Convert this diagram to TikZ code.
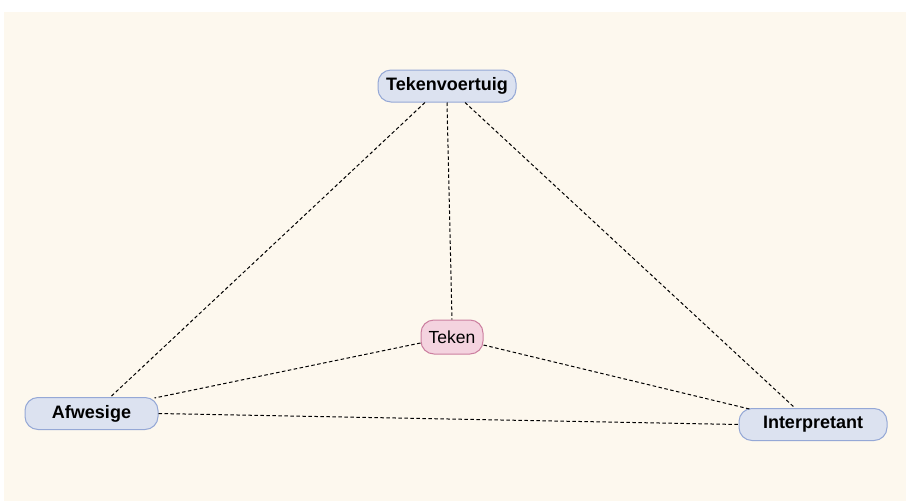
\documentclass[tikz,border=0pt]{standalone}
\usepackage{fontspec}
\setmainfont{Liberation Sans}
\begin{document}
\begin{tikzpicture}[x=1pt,y=-1pt,
  concept/.style={draw=blueline, line width=1pt, fill=bluefill, rounded corners=13pt,
    minimum height=32pt, inner sep=0pt, font=\fontsize{18}{20}\selectfont\bfseries, text=black},
  centre/.style={draw=pinkline, line width=1pt, fill=pinkfill, rounded corners=13pt,
    minimum height=34pt, minimum width=62pt, inner sep=0pt, font=\fontsize{17.5}{20}\selectfont, text=black},
  link/.style={draw=black, line width=1pt, dash pattern=on 3.5pt off 2.5pt}]
\definecolor{bgcol}{HTML}{FDF8EE}
\definecolor{bluefill}{HTML}{DCE2F0}
\definecolor{blueline}{HTML}{95A8D6}
\definecolor{pinkfill}{HTML}{F4D3DF}
\definecolor{pinkline}{HTML}{CC7FA0}
\useasboundingbox (0,0) rectangle (906,501);
\fill[bgcol] (4,12) rectangle (906,501);
\node[concept, minimum width=138pt] (tv) at (447,86) {Tekenvoertuig};
\node[centre] (te) at (452,337) {Teken};
\node[concept, minimum width=133pt] (af) at (91.5,413.5) {Afwesige};
\node[concept, minimum width=148pt] (ip) at (813,424.5) {Interpretant};
\draw[link] ([xshift=-22pt]tv.south) -- ([xshift=19pt]af.north);
\draw[link] (tv.south) -- (te.north);
\draw[link] ([xshift=18pt]tv.south) -- ([xshift=-18pt]ip.north);
\draw[link] ([yshift=-6pt]te.west) -- ([xshift=-4pt,yshift=-1pt]af.north east);
\draw[link] ([yshift=-8pt]te.east) -- ([xshift=11pt,yshift=-1pt]ip.north west);
\draw[link] (af.east) -- (ip.west);
\end{tikzpicture}
\end{document}
